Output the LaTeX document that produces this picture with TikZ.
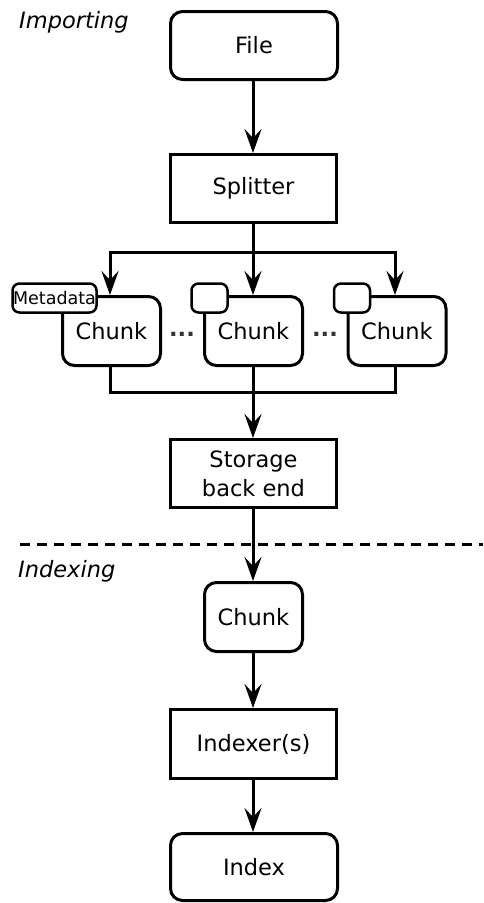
\documentclass[tikz,border=0pt]{standalone}
\usepackage{fontspec}
\setmainfont{DejaVu Sans}
\usetikzlibrary{arrows.meta}
\begin{document}
\begin{tikzpicture}[x=1pt,y=-1pt,
  box/.style={draw,line width=3pt,inner sep=0pt,fill=white,font=\fontsize{22.5}{29}\selectfont,align=center},
  rbox/.style={box,rounded corners=12pt},
  meta/.style={draw,line width=2.5pt,inner sep=0pt,fill=white,rounded corners=7pt,font=\fontsize{17.5}{20}\selectfont},
  conn/.style={line width=3pt},
  arr/.style={conn,-{Stealth[length=24pt,width=17pt,inset=9pt]}},
  lbl/.style={font=\fontsize{22.5}{27}\selectfont\itshape,anchor=west,inner sep=0pt},
  dots/.style={font=\fontsize{22.5}{27}\selectfont\bfseries,text=black!80,inner sep=0pt}
]
\useasboundingbox (0,0) rectangle (483,903);
\node[lbl] (imp) at (19,22) {Importing};
\node[lbl] (idx) at (18,571) {Indexing};

\node[rbox,minimum width=167pt,minimum height=68pt] (file) at (254,45.5) {File};
\node[box,minimum width=166pt,minimum height=68pt] (split) at (253.5,188.5) {Splitter};

\node[rbox,minimum width=98pt,minimum height=69pt] (c1) at (111.5,331) {Chunk};
\node[rbox,minimum width=98pt,minimum height=69pt] (c2) at (253.5,331) {Chunk};
\node[rbox,minimum width=98pt,minimum height=69pt] (c3) at (397,331) {Chunk};
\node[meta,minimum width=84pt,minimum height=29pt] (m1) at (54.5,298) {Metadata};
\node[meta,minimum width=36pt,minimum height=29pt] (m2) at (209.5,298) {};
\node[meta,minimum width=36pt,minimum height=29pt] (m3) at (352,298) {};
\node[dots] (d1) at (182,334) {...};
\node[dots] (d2) at (325,334) {...};

\node[box,minimum width=166pt,minimum height=68pt] (store) at (253.5,473.5) {Storage\\back end};
\node[rbox,minimum width=98pt,minimum height=69pt] (ci) at (253.5,617) {Chunk};
\node[box,minimum width=166pt,minimum height=69pt] (indexer) at (253.5,744) {Indexer(s)};
\node[rbox,minimum width=167pt,minimum height=67pt] (index) at (254,867) {Index};

\coordinate (br) at (253,252);
\coordinate (mg) at (253,392);
\coordinate (dl) at (20,544);
\coordinate (dr) at (483,544);

\draw[arr] (file.south -| br) -- (split.north -| br);
\draw[conn] (split.south -| br) -- (br);
\draw[arr] (br) -| ([xshift=-1.5pt]c1.north);
\draw[arr] (br) -- (c2.north -| br);
\draw[arr] (br) -| ([xshift=-2pt]c3.north);
\draw[conn] ([xshift=-1.5pt]c1.south) |- (mg);
\draw[conn] ([xshift=-2pt]c3.south) |- (mg);
\draw[conn] (c2.south -| mg) -- (mg);
\draw[arr] (mg) -- (store.north -| mg);
\draw[conn,dash pattern=on 10pt off 7pt] (dl) -- (dr);
\draw[arr] (store.south -| mg) -- (ci.north -| mg);
\draw[arr] (ci.south -| mg) -- (indexer.north -| mg);
\draw[arr] (indexer.south -| mg) -- (index.north -| mg);
\end{tikzpicture}
\end{document}
